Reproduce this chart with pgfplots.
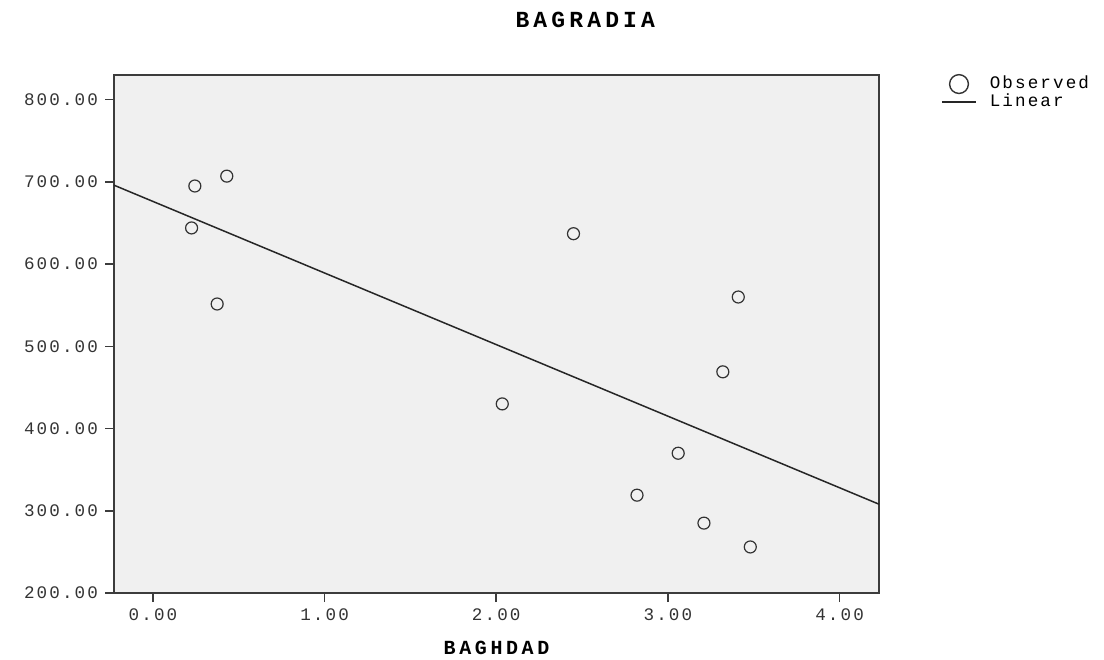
\documentclass[border=0pt]{standalone}
\usepackage{pgfplots}
\pgfplotsset{compat=1.18}
\usepackage{fontspec}
\setmainfont{Liberation Mono}
\newfontfamily\tickfont[LetterSpace=12]{Liberation Mono}
\newfontfamily\boldfont[LetterSpace=18]{Liberation Mono}
\definecolor{bgc}{RGB}{240,240,240}
\definecolor{axc}{RGB}{60,60,60}
\begin{document}
\begin{tikzpicture}[x=1bp,y=1bp]
\path[use as bounding box] (0,0) rectangle (552,329.5);
\begin{axis}[
  at={(57bp,33bp)}, anchor=south west,
  scale only axis, width=382.5bp, height=259bp,
  xmin=-0.227, xmax=4.23, ymin=200, ymax=830,
  xtick={0,1,2,3,4}, ytick={200,300,400,500,600,700,800},
  axis background/.style={fill=bgc},
  axis line style={draw=axc, line width=0.8bp},
  tick style={draw=axc, line width=0.8bp},
  tick align=outside, tick pos=left, major tick length=4.5bp,
  ticklabel style={font=\tickfont\fontsize{8.8bp}{10bp}\selectfont, text=black!80},
  xticklabel style={/pgf/number format/fixed, /pgf/number format/fixed zerofill, /pgf/number format/precision=2, /pgf/number format/assume math mode=true},
  yticklabel style={/pgf/number format/fixed, /pgf/number format/fixed zerofill, /pgf/number format/precision=2, /pgf/number format/assume math mode=true},
  legend style={at={(rel axis cs:1.073,1.012)}, anchor=north west, draw=none, fill=none,
    font=\tickfont\fontsize{8.8bp}{10bp}\selectfont, row sep=-2bp, nodes={inner sep=1.5bp},
    /tikz/every odd column/.append style={column sep=5bp}},
  legend cell align=left,
  clip=false,
]
\addplot[only marks, mark=o, mark size=3bp, mark options={line width=0.6bp, draw=black!80}, forget plot]
  coordinates {
  (0.244,695) (0.43,707) (0.225,644) (0.374,551.5)
  (2.45,637) (2.035,430) (3.41,560) (3.32,469)
  (3.06,370) (2.82,319) (3.21,285) (3.48,256)
  };
\addlegendimage{only marks, mark=o, mark size=4.7bp, mark options={line width=0.7bp, draw=black!80}}
\addlegendentry{Observed}
\addplot[black!85, line width=0.75bp] coordinates {(-0.227,696) (4.23,308)};
\addlegendentry{Linear}
\node[font=\boldfont\bfseries\fontsize{11.5bp}{13bp}\selectfont] at (rel axis cs:0.616,1.106) {BAGRADIA};
\node[font=\boldfont\bfseries\fontsize{10bp}{12bp}\selectfont] at (rel axis cs:0.5,-0.106) {BAGHDAD};
\end{axis}
\end{tikzpicture}
\end{document}
